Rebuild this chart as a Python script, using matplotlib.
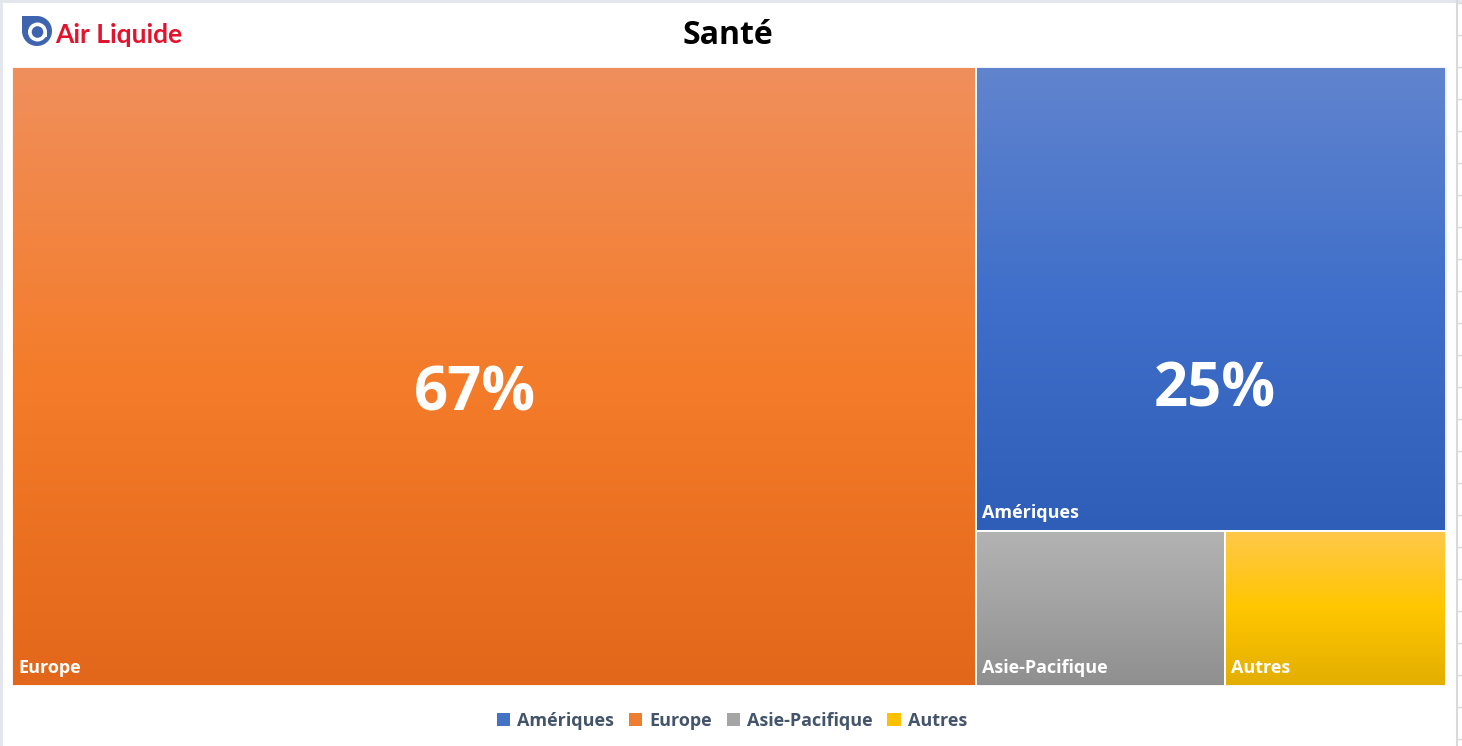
import matplotlib
matplotlib.use("Agg")
import matplotlib.pyplot as plt
import numpy as np
from matplotlib.colors import LinearSegmentedColormap
from matplotlib.patches import Rectangle, Circle, Polygon

# ---- data ----
categories = ["Europe", "Amériques", "Asie-Pacifique", "Autres"]
values = [67.2, 24.6, 4.35, 3.85]
pct_labels = ["67%", "25%", "", ""]
legend_order = ["Amériques", "Europe", "Asie-Pacifique", "Autres"]
grad_colors = {
    "Europe": ["#F08F5C", "#F47C2A", "#E3671A"],
    "Amériques": ["#6184CE", "#3F6FCA", "#2E5EB7"],
    "Asie-Pacifique": ["#B3B3B3", "#A2A2A2", "#8F8F8F"],
    "Autres": ["#FFC84A", "#FFC600", "#E2AE00"],
}
legend_colors = {"Amériques": "#4472C4", "Europe": "#ED7D31",
                 "Asie-Pacifique": "#A5A5A5", "Autres": "#FFC000"}

plt.rcParams['font.family'] = ['Open Sans', 'DejaVu Sans']

W, H = 1462, 746
fig = plt.figure(figsize=(W / 100, H / 100), dpi=100)
fig.patch.set_facecolor("white")

# frame border like spreadsheet
bg = fig.add_axes([0, 0, 1, 1])
bg.set_xlim(0, W); bg.set_ylim(H, 0); bg.axis("off")
bg.plot([1, 1], [0, H], color="#E1E5EC", lw=2)
bg.plot([0, W], [1, 1], color="#E1E5EC", lw=2)
bg.plot([1457, 1457], [0, H], color="#D9D9D9", lw=1.5)
for yy in range(3, H, 32):
    bg.plot([1457, 1462], [yy, yy], color="#D9D9D9", lw=1)

# ---- treemap layout from data ----
total = sum(values)
rects = {}
x_eu = values[0] / total
rects["Europe"] = (0, 0, x_eu, 1)
right_w = 1 - x_eu
rest = total - values[0]
h_am = values[1] / rest
rects["Amériques"] = (x_eu, 1 - h_am, right_w, h_am)
bottom_total = values[2] + values[3]
w_ap = right_w * values[2] / bottom_total
rects["Asie-Pacifique"] = (x_eu, 0, w_ap, 1 - h_am)
rects["Autres"] = (x_eu + w_ap, 0, right_w - w_ap, 1 - h_am)

AXW, AXH = 1434, 619
ax = fig.add_axes([12 / W, 60 / H, AXW / W, AXH / H])
ax.set_xlim(0, 1); ax.set_ylim(0, 1); ax.axis("off")

# percentage label anchor (pixels within plot from top)
pct_pos = {"Europe": (463, 328), "Amériques": (1203, 324)}

grad = np.linspace(1, 0, 256).reshape(-1, 1)  # bottom row (lower) = dark
for name, pct in zip(categories, pct_labels):
    x, y, w, h = rects[name]
    cmap = LinearSegmentedColormap.from_list(name, grad_colors[name])
    ax.imshow(grad, cmap=cmap, vmin=0, vmax=1, aspect="auto",
              extent=(x, x + w, y, y + h), origin="lower",
              interpolation="bilinear", zorder=1)
    ax.add_patch(Rectangle((x, y), w, h, fill=False, edgecolor="white",
                           lw=1.3, zorder=2, clip_on=False))
    ax.text(x + 6 / AXW, y + 13 / AXH, name, color="white", fontsize=13,
            fontweight="bold", ha="left", va="baseline", zorder=3)
    if pct:
        px, py = pct_pos[name]
        ax.text(px / AXW, 1 - py / AXH, pct,
                color="white", fontsize=43, fontweight="bold",
                ha="center", va="center", zorder=3)
ax.set_xlim(0, 1); ax.set_ylim(0, 1)

# title
fig.text(728 / W, 1 - 36 / H, "Santé", fontsize=23, fontweight="bold",
         ha="center", va="center", color="black")

# logo
ts = np.linspace(0, 1.5 * np.pi, 40)
pts = [[37 + 15 * np.sin(t), 31 - 15 * np.cos(t)] for t in ts] + [[22, 16]]
bg.add_patch(Polygon(pts, closed=True, facecolor="#3E64B0", edgecolor="none", zorder=5))
bg.add_patch(Circle((37.5, 32), 9.5, facecolor="white", edgecolor="none", zorder=6))
bg.add_patch(Circle((37.5, 32), 5.8, facecolor="#3E64B0", edgecolor="none", zorder=7))
bg.add_patch(Rectangle((40, 32), 7, 5, facecolor="white", edgecolor="none", zorder=6))
bg.text(55, 35, "Air Liquide", fontsize=19, color="#E2132C", fontweight="bold",
        ha="left", va="center", family=["Lato", "DejaVu Sans"], zorder=8)

# legend
handles = [Rectangle((0, 0), 1, 1, facecolor=legend_colors[n], edgecolor="none")
           for n in legend_order]
leg = fig.legend(handles, legend_order, loc="center", bbox_to_anchor=(732 / W, 1 - 721 / H),
                 ncol=4, frameon=False, handlelength=0.75, handleheight=0.75,
                 handletextpad=0.4, columnspacing=0.8,
                 prop={"size": 13, "weight": "bold"})
for t in leg.get_texts():
    t.set_color("#44546A")

fig.savefig("out.png", dpi=100, facecolor="white")
